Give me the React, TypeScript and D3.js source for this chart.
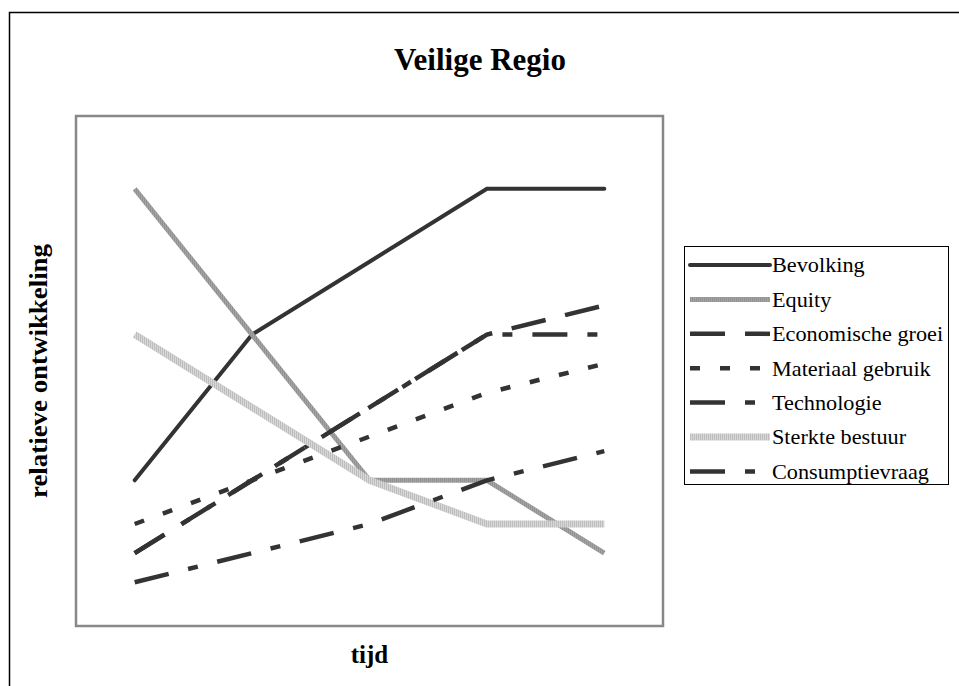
import React, { useEffect, useRef } from 'react';
import * as d3 from 'd3';

// five unlabeled time steps on the x axis
const steps = ['t1', 't2', 't3', 't4', 't5'];

const bevolking = [2, 4, 5, 6, 6];
const equity = [6, 4, 2, 2, 1];
const economischeGroei = [1, 2, 3, 4, 4.4];
const materiaalGebruik = [1.4, 2, 2.6, 3.2, 3.6];
const technologie = [1, 2, 3, 4, 4];
const sterkteBestuur = [4, 3, 2, 1.4, 1.4];
const consumptievraag = [0.6, 1, 1.4, 2, 2.4];

const seriesNames = [
  'Bevolking',
  'Equity',
  'Economische groei',
  'Materiaal gebruik',
  'Technologie',
  'Sterkte bestuur',
  'Consumptievraag',
];
const seriesValues = [
  bevolking,
  equity,
  economischeGroei,
  materiaalGebruik,
  technologie,
  sterkteBestuur,
  consumptievraag,
];

const lineStyles = [
  { stroke: '#333', width: 4, dash: null, cap: 'round' },
  { stroke: 'url(#hatchMid)', width: 5, dash: null, cap: 'butt' },
  { stroke: '#333', width: 4.5, dash: '35 20', cap: 'butt' },
  { stroke: '#333', width: 4.5, dash: '10 20', cap: 'butt' },
  { stroke: '#333', width: 4.5, dash: '35 20 10 20 10 20', cap: 'butt' },
  { stroke: 'url(#hatchLight)', width: 7, dash: null, cap: 'butt' },
  { stroke: '#333', width: 4.5, dash: '35 20 10 20', cap: 'butt' },
];

const App: React.FC = () => {
  const svgRef = useRef<SVGSVGElement>(null);

  useEffect(() => {
    if (!svgRef.current) return;
    const width = 959;
    const height = 686;
    const plot = { left: 76, top: 116, right: 663, bottom: 626 };

    const svg = d3.select(svgRef.current)
      .attr('width', width)
      .attr('height', height)
      .attr('viewBox', `0 0 ${width} ${height}`)
      .style('font-family', '"Liberation Serif", "Times New Roman", serif')
      .html('');

    const defs = svg.append('defs');
    const hatch = (id: string, a: string, b: string) => {
      const p = defs.append('pattern')
        .attr('id', id)
        .attr('patternUnits', 'userSpaceOnUse')
        .attr('width', 2)
        .attr('height', 2);
      p.append('rect').attr('width', 2).attr('height', 2).attr('fill', a);
      p.append('rect').attr('width', 1).attr('height', 2).attr('fill', b);
    };
    hatch('hatchLight', '#d8d8d8', '#bdbdbd');
    hatch('hatchMid', '#a3a3a3', '#929292');

    svg.append('rect').attr('width', width).attr('height', height).attr('fill', '#fff');

    // outer chart border (only top and left visible)
    svg.append('rect')
      .attr('x', 9.5).attr('y', 12.5)
      .attr('width', 1200).attr('height', 1200)
      .attr('fill', 'none').attr('stroke', '#000').attr('stroke-width', 1.5);

    svg.append('text')
      .attr('x', 480).attr('y', 70)
      .attr('text-anchor', 'middle')
      .attr('font-weight', 'bold')
      .attr('font-size', 31)
      .text('Veilige Regio');

    const x = d3.scalePoint<string>()
      .domain(steps)
      .range([plot.left, plot.right])
      .padding(0.5);
    const y = d3.scaleLinear().domain([0, 7]).range([plot.bottom, plot.top]);

    svg.append('rect')
      .attr('x', plot.left).attr('y', plot.top)
      .attr('width', plot.right - plot.left).attr('height', plot.bottom - plot.top)
      .attr('fill', '#fff').attr('stroke', '#888').attr('stroke-width', 2.5);

    const line = d3.line<number>()
      .x((_, i) => x(steps[i]) as number)
      .y(d => y(d));

    seriesValues.forEach((vals, i) => {
      const st = lineStyles[i];
      const p = svg.append('path')
        .attr('d', line(vals))
        .attr('fill', 'none')
        .attr('stroke', st.stroke)
        .attr('stroke-width', st.width)
        .attr('stroke-linejoin', 'miter')
        .attr('stroke-linecap', st.cap);
      if (st.dash) p.attr('stroke-dasharray', st.dash);
    });

    svg.append('text')
      .attr('transform', `translate(47, ${(plot.top + plot.bottom) / 2}) rotate(-90)`)
      .attr('text-anchor', 'middle')
      .attr('font-weight', 'bold')
      .attr('font-size', 25)
      .attr('textLength', 254)
      .attr('lengthAdjust', 'spacingAndGlyphs')
      .text('relatieve ontwikkeling');

    svg.append('text')
      .attr('x', (plot.left + plot.right) / 2).attr('y', 663)
      .attr('text-anchor', 'middle')
      .attr('font-weight', 'bold')
      .attr('font-size', 25)
      .text('tijd');

    // legend
    const lg = svg.append('g');
    lg.append('rect')
      .attr('x', 684.5).attr('y', 246.5)
      .attr('width', 264).attr('height', 238)
      .attr('fill', '#fff').attr('stroke', '#000').attr('stroke-width', 1);
    seriesNames.forEach((name, i) => {
      const st = lineStyles[i];
      const yy = 265 + i * 34.4;
      const l = lg.append('line')
        .attr('x1', 690).attr('x2', 770)
        .attr('y1', yy).attr('y2', yy)
        .attr('stroke', st.stroke)
        .attr('stroke-width', st.width)
        .attr('stroke-linecap', st.cap);
      if (st.dash) l.attr('stroke-dasharray', st.dash);
      lg.append('text')
        .attr('transform', `translate(772, ${yy}) scale(1.06, 1)`)
        .attr('dy', '0.35em')
        .attr('font-size', 21)
        .text(name);
    });
  }, []);

  return (
    <div style={{ position: 'absolute', left: 0, top: 0 }}>
      <svg ref={svgRef} style={{ display: 'block' }} />
    </div>
  );
};

export default App;
